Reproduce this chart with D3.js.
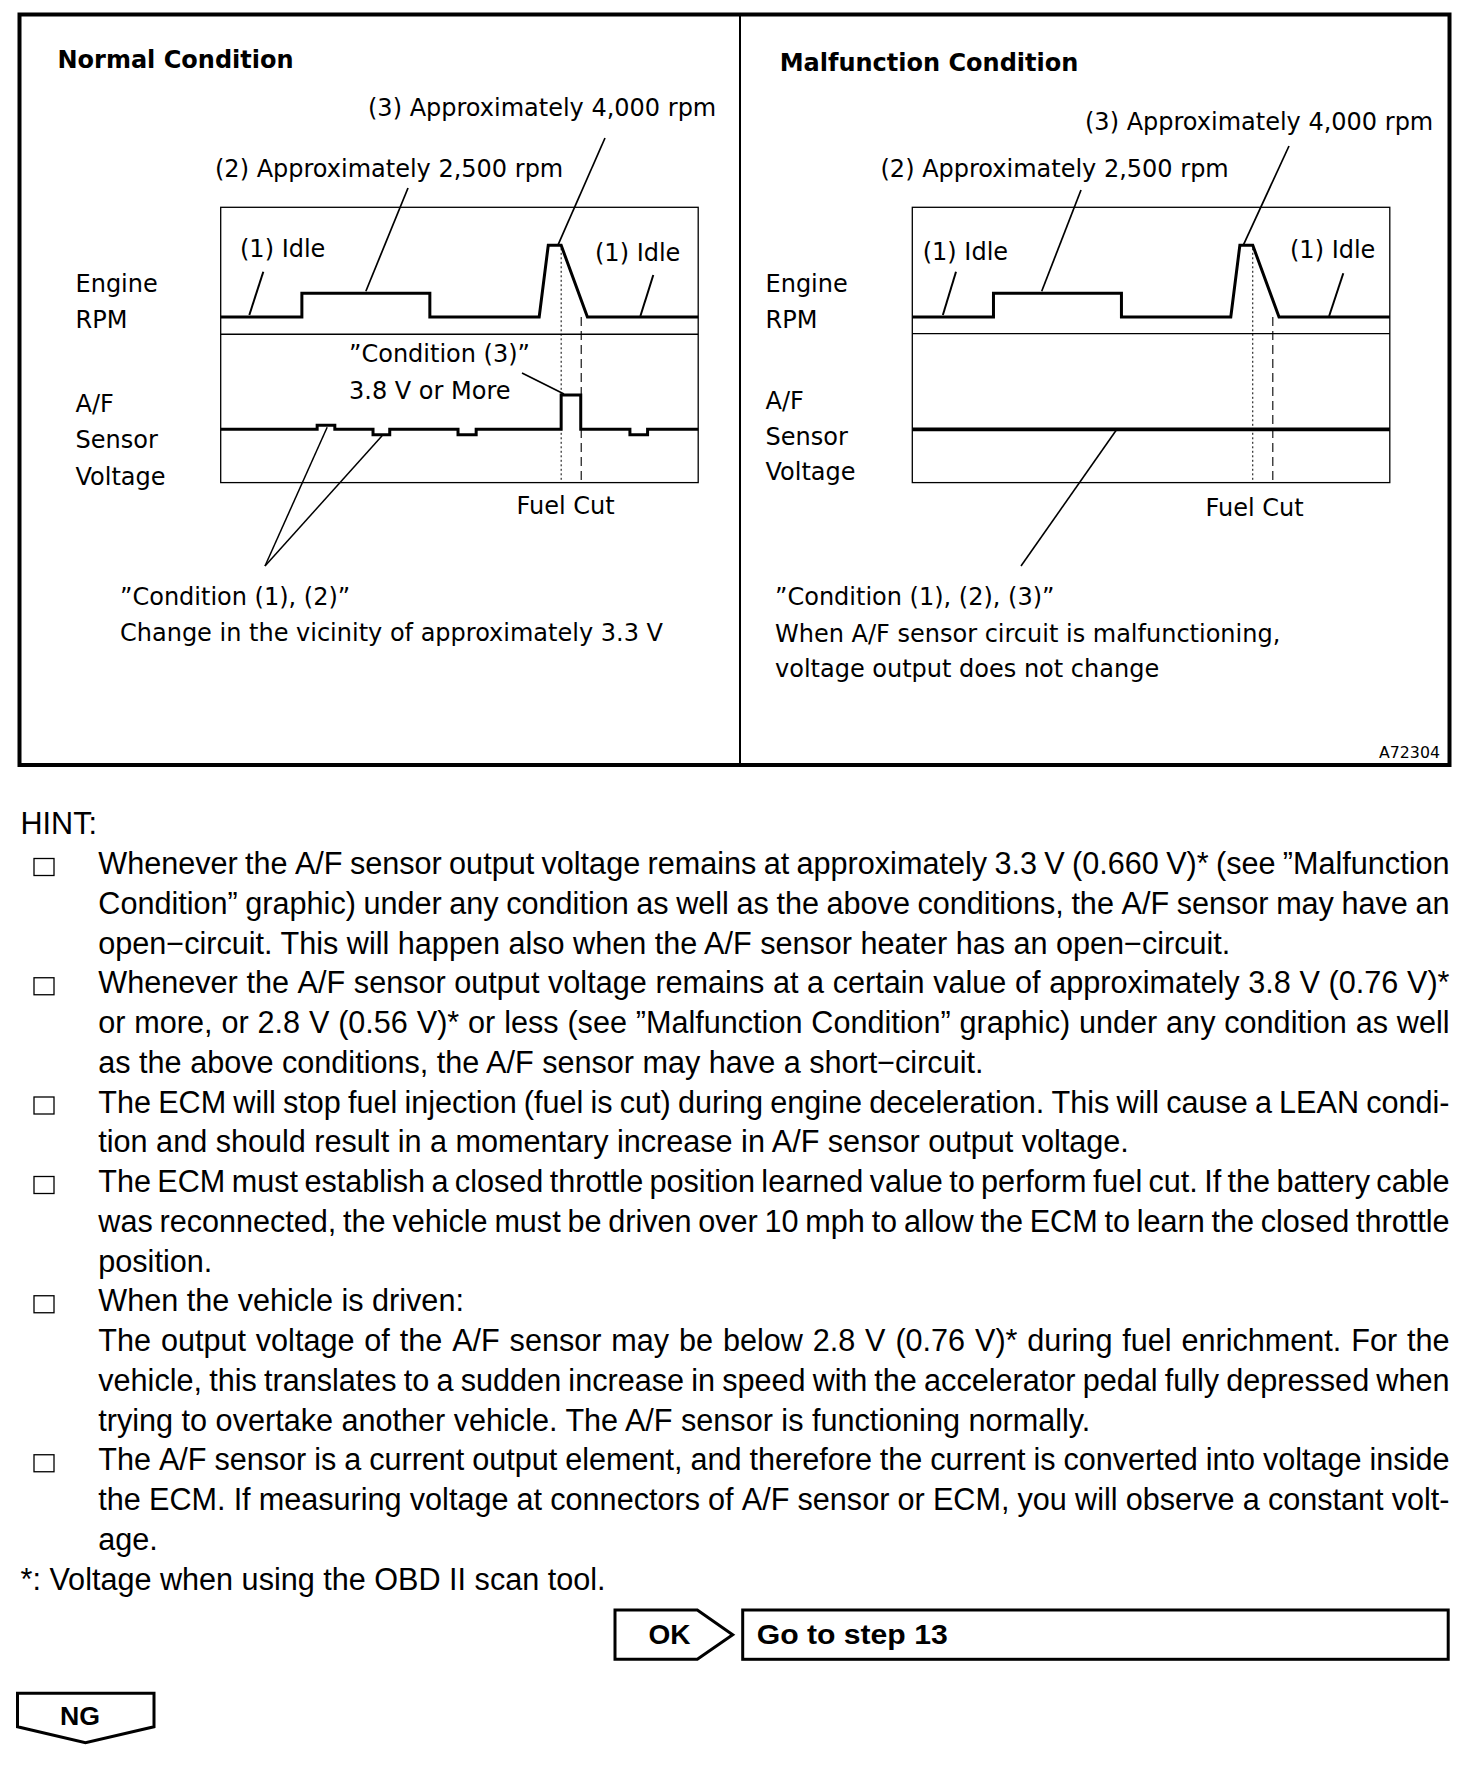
<!DOCTYPE html>
<html><head><meta charset="utf-8">
<script src="https://cdn.jsdelivr.net/npm/d3@7"></script>
<style>
html,body{margin:0;padding:0;background:#fff;}
svg{display:block;}
</style></head><body>
<svg id="fig" width="1472" height="1768"></svg>
<script>
// ---------------- data ----------------
// schematic time axis, in % of the trace width
const timeDomain = [0, 100];
// Engine RPM trace (same in both panels)
const rpmTime  = [0, 17.0, 17.0, 43.8, 43.8, 66.7, 68.6, 71.3, 76.8, 100];
const rpmValue = [700, 700, 2500, 2500, 700, 700, 4000, 4000, 700, 700];
const rpmLevels = [700, 2500, 4000];
// A/F sensor voltage, normal condition (step trace)
const afNormalTime  = [0, 20.2, 23.9, 31.9, 35.4, 49.7, 53.5, 71.3, 75.4, 85.7, 89.4, 100];
const afNormalValue = [3.3, 3.36, 3.3, 3.22, 3.3, 3.22, 3.3, 3.8, 3.3, 3.22, 3.3, 3.3];
// A/F sensor voltage, malfunction condition (flat)
const afMalTime  = [0, 100];
const afMalValue = [3.3, 3.3];
const afLevels = [3.3, 3.8];
// fuel cut window (start dotted, end dashed)
const fuelCutTime = [71.3, 75.5];

const panelTitles = ["Normal Condition", "Malfunction Condition"];
const rpmLabel = ["Engine", "RPM"];
const afLabel = ["A/F", "Sensor", "Voltage"];
const rpmNotes = ["(1) Idle", "(2) Approximately 2,500 rpm", "(3) Approximately 4,000 rpm"];
const normalNotes = ["\u201DCondition (3)\u201D", "3.8 V or More", "\u201DCondition (1), (2)\u201D",
                     "Change in the vicinity of approximately 3.3 V"];
const malNotes = ["\u201DCondition (1), (2), (3)\u201D", "When A/F sensor circuit is malfunctioning,",
                  "voltage output does not change"];
const fuelCutLabel = "Fuel Cut";
const figId = "A72304";

const hintLines = [
  ["Whenever the A/F sensor output voltage remains at approximately 3.3 V (0.660 V)* (see \u201DMalfunction", 1, 1],
  ["Condition\u201D graphic) under any condition as well as the above conditions, the A/F sensor may have an", 1, 0],
  ["open\u2212circuit. This will happen also when the A/F sensor heater has an open\u2212circuit.", 0, 0],
  ["Whenever the A/F sensor output voltage remains at a certain value of approximately 3.8 V (0.76 V)*", 1, 1],
  ["or more, or 2.8 V (0.56 V)* or less (see \u201DMalfunction Condition\u201D graphic) under any condition as well", 1, 0],
  ["as the above conditions, the A/F sensor may have a short\u2212circuit.", 0, 0],
  ["The ECM will stop fuel injection (fuel is cut) during engine deceleration. This will cause a LEAN condi-", 1, 1],
  ["tion and should result in a momentary increase in A/F sensor output voltage.", 0, 0],
  ["The ECM must establish a closed throttle position learned value to perform fuel cut. If the battery cable", 1, 1],
  ["was reconnected, the vehicle must be driven over 10 mph to allow the ECM to learn the closed throttle", 1, 0],
  ["position.", 0, 0],
  ["When the vehicle is driven:", 0, 1],
  ["The output voltage of the A/F sensor may be below 2.8 V (0.76 V)* during fuel enrichment. For the", 1, 0],
  ["vehicle, this translates to a sudden increase in speed with the accelerator pedal fully depressed when", 1, 0],
  ["trying to overtake another vehicle. The A/F sensor is functioning normally.", 0, 0],
  ["The A/F sensor is a current output element, and therefore the current is converted into voltage inside", 1, 1],
  ["the ECM. If measuring voltage at connectors of A/F sensor or ECM, you will observe a constant volt-", 1, 0],
  ["age.", 0, 0]
];
const hintTitle = "HINT:";
const footnote = "*: Voltage when using the OBD II scan tool.";
const okLabel = "OK", okTarget = "Go to step 13", ngLabel = "NG";

// ---------------- drawing ----------------
const svg = d3.select("#fig");
const CH = "'DejaVu Sans', sans-serif";
const HF = "'Liberation Sans', Arial, sans-serif";

// outer frame
svg.append("rect").attr("x", 19.5).attr("y", 14.5).attr("width", 1430).attr("height", 750.5)
  .attr("fill", "none").attr("stroke", "#000").attr("stroke-width", 4);
svg.append("line").attr("x1", 740).attr("x2", 740).attr("y1", 14.5).attr("y2", 765)
  .attr("stroke", "#000").attr("stroke-width", 2);

function txt(g, s, x, y, opt = {}) {
  const t = g.append("text").attr("x", x).attr("y", y).text(s)
    .attr("font-family", opt.family || CH).attr("font-size", opt.size || 24)
    .attr("font-weight", opt.weight || "normal").attr("fill", "#000");
  if (opt.anchor) t.attr("text-anchor", opt.anchor);
  if (opt.len) t.attr("textLength", opt.len).attr("lengthAdjust", "spacingAndGlyphs");
  return t;
}
function leader(g, x1, y1, x2, y2, w) {
  g.append("line").attr("x1", x1).attr("y1", y1).attr("x2", x2).attr("y2", y2)
    .attr("stroke", "#000").attr("stroke-width", w || 1.6);
}

function drawPanel(cfg) {
  const g = svg.append("g");
  const top = 207.3, W = 477.5, H = 275.3, split = cfg.split;
  const x = d3.scaleLinear().domain(timeDomain).range([cfg.x0, cfg.x0 + W]);
  const yR = d3.scaleLinear().domain(rpmLevels).range([top + 109.7, top + 86, top + 38]);
  const yV = d3.scaleLinear().domain(afLevels).range([top + 222, top + 187.7]);

  // boxes
  g.append("rect").attr("x", cfg.x0).attr("y", top).attr("width", W).attr("height", H)
    .attr("fill", "none").attr("stroke", "#000").attr("stroke-width", 1.3);
  g.append("line").attr("x1", cfg.x0).attr("x2", cfg.x0 + W).attr("y1", top + split).attr("y2", top + split)
    .attr("stroke", "#000").attr("stroke-width", 1.4);

  // fuel cut markers
  g.append("line").attr("x1", x(fuelCutTime[0])).attr("x2", x(fuelCutTime[0]))
    .attr("y1", yR(4000) + 3).attr("y2", top + H)
    .attr("stroke", "#000").attr("stroke-width", 1).attr("stroke-dasharray", "2,2.5");
  g.append("line").attr("x1", x(fuelCutTime[1])).attr("x2", x(fuelCutTime[1]))
    .attr("y1", yR(700)).attr("y2", top + H)
    .attr("stroke", "#000").attr("stroke-width", 1.1).attr("stroke-dasharray", "9,5");

  // RPM trace
  const rpmPts = rpmTime.map((t, i) => [t, rpmValue[i]]);
  g.append("path").attr("d", d3.line().x(d => x(d[0])).y(d => yR(d[1]))(rpmPts))
    .attr("fill", "none").attr("stroke", "#000").attr("stroke-width", 3).attr("stroke-linejoin", "miter");

  // A/F trace
  const afPts = cfg.afT.map((t, i) => [t, cfg.afV[i]]);
  g.append("path").attr("d", d3.line().curve(d3.curveStepAfter).x(d => x(d[0])).y(d => yV(d[1]))(afPts))
    .attr("fill", "none").attr("stroke", "#000").attr("stroke-width", cfg.afW).attr("stroke-linejoin", "miter");

  // labels
  txt(g, cfg.title, cfg.titleX, cfg.titleY, { weight: "bold" });
  txt(g, rpmLabel[0], cfg.labX, 292); txt(g, rpmLabel[1], cfg.labX, 328);
  cfg.afLabY.forEach((yy, i) => txt(g, afLabel[i], cfg.labX, yy));
  txt(g, rpmNotes[2], cfg.n3[0], cfg.n3[1]);
  txt(g, rpmNotes[1], cfg.n2[0], cfg.n2[1]);
  txt(g, rpmNotes[0], cfg.idleL[0], cfg.idleL[1]);
  txt(g, rpmNotes[0], cfg.idleR[0], cfg.idleR[1]);
  txt(g, fuelCutLabel, cfg.fuel[0], cfg.fuel[1]);

  // leaders on the RPM trace
  leader(g, cfg.leadIdleL[0], cfg.leadIdleL[1], x(cfg.lead.idleL), yR(700) - 2, 2);
  leader(g, cfg.leadIdleR[0], cfg.leadIdleR[1], x(cfg.lead.idleR), yR(700) - 1, 2);
  leader(g, cfg.lead2top[0], cfg.lead2top[1], x(cfg.lead.r2500), yR(2500) - 2, 1.7);
  leader(g, cfg.lead3top[0], cfg.lead3top[1], x(cfg.lead.r4000), yR(4000), 1.7);
  return { g, x, yR, yV };
}

// Normal panel
const P1 = drawPanel({
  x0: 220.7, split: 127, afT: afNormalTime, afV: afNormalValue, afW: 3,
  title: panelTitles[0], titleX: 57.5, titleY: 67.7, labX: 75.5, afLabY: [411.5, 448, 485],
  n3: [368, 116], n2: [215, 176.5], idleL: [240, 257], idleR: [595, 261], fuel: [516.5, 514],
  lead: { idleL: 6.0, idleR: 87.9, r2500: 30.4, r4000: 70.6 },
  leadIdleL: [263.3, 271.7], leadIdleR: [653.3, 275],
  lead2top: [408, 188], lead3top: [605, 138]
});
txt(P1.g, normalNotes[0], 349, 362);
txt(P1.g, normalNotes[1], 349, 398.5);
leader(P1.g, 522, 373, P1.x(71.9), P1.yV(3.8) - 1, 1.6);
leader(P1.g, 265, 566, P1.x(22.3), P1.yV(3.36) + 2, 1.5);
leader(P1.g, 265, 566, P1.x(33.8), P1.yV(3.22) + 1, 1.5);
txt(P1.g, normalNotes[2], 120, 605);
txt(P1.g, normalNotes[3], 120, 641);

// Malfunction panel
const P2 = drawPanel({
  x0: 912.3, split: 126.3, afT: afMalTime, afV: afMalValue, afW: 3.8,
  title: panelTitles[1], titleX: 779.7, titleY: 71, labX: 765.5, afLabY: [409, 444.5, 480],
  n3: [1085, 129.5], n2: [880.5, 177], idleL: [922.7, 260], idleR: [1290, 258], fuel: [1205.6, 516],
  lead: { idleL: 6.4, idleR: 87.3, r2500: 27.1, r4000: 69.3 },
  leadIdleL: [956, 271.7], leadIdleR: [1343.3, 273.3],
  lead2top: [1081, 190], lead3top: [1289, 146]
});
leader(P2.g, 1021, 566, P2.x(42.7), P2.yV(3.3) + 1, 1.6);
txt(P2.g, malNotes[0], 775, 605);
txt(P2.g, malNotes[1], 775, 641.5);
txt(P2.g, malNotes[2], 775, 677);
txt(P2.g, figId, 1379, 758, { size: 15, len: 61 });

// ---------------- HINT block ----------------
const hg = svg.append("g").attr("font-family", HF).attr("font-size", 30.6).attr("fill", "#000");
hg.append("text").attr("x", 20.5).attr("y", 834).text(hintTitle);
const base0 = 874, lh = 39.75, textX = 98.3, rightX = 1449.5;
hintLines.forEach((row, i) => {
  const [s, just, box] = row;
  const y = base0 + i * lh;
  if (box) {
    hg.append("rect").attr("x", 34).attr("y", y - 15.5).attr("width", 20).attr("height", 17)
      .attr("fill", "none").attr("stroke", "#000").attr("stroke-width", 1.3);
  }
  if (!just) { hg.append("text").attr("x", textX).attr("y", y).text(s); return; }
  const words = s.split(" ");
  const t = hg.append("text").attr("y", y);
  const spans = words.map(w => t.append("tspan").text(w));
  const widths = spans.map(sp => sp.node().getComputedTextLength());
  const gap = (rightX - textX - d3.sum(widths)) / (words.length - 1);
  let cx = textX;
  spans.forEach((sp, k) => { sp.attr("x", cx); cx += widths[k] + gap; });
});
hg.append("text").attr("x", 20.5).attr("y", base0 + hintLines.length * lh).text(footnote);

// ---------------- OK / NG ----------------
const bg = svg.append("g");
bg.append("path").attr("d", "M615,1610 H697.3 L732.7,1634.7 L697.3,1659.3 H615 Z")
  .attr("fill", "none").attr("stroke", "#000").attr("stroke-width", 3).attr("stroke-linejoin", "miter");
txt(bg, okLabel, 648.5, 1644, { family: HF, size: 28, weight: "bold", len: 42 });
bg.append("rect").attr("x", 742.7).attr("y", 1610).attr("width", 705.5).attr("height", 49.3)
  .attr("fill", "none").attr("stroke", "#000").attr("stroke-width", 3);
txt(bg, okTarget, 756.7, 1644, { family: HF, size: 28, weight: "bold", len: 191 });
bg.append("path").attr("d", "M17.5,1693.3 H154 V1726.7 L85.5,1742.7 L17.5,1726.7 Z")
  .attr("fill", "none").attr("stroke", "#000").attr("stroke-width", 3).attr("stroke-linejoin", "miter");
txt(bg, ngLabel, 60, 1725, { family: HF, size: 26, weight: "bold", len: 40 });
</script>
</body></html>
